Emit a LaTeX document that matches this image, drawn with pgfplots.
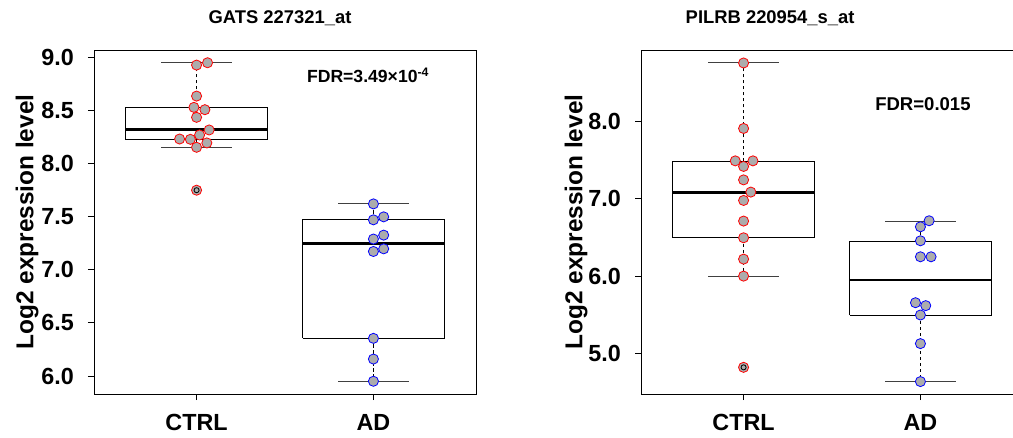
\documentclass[border=0pt]{standalone}
\usepackage{fontspec}
\setmainfont{Liberation Sans}
\usepackage{pgfplots}
\pgfplotsset{compat=1.18}

\definecolor{ptgray}{RGB}{172,172,172}

\pgfplotsset{
  exprbox/.style={
    scale only axis, anchor=south west,
    width=286.5pt, height=258pt,
    xmin=0.42, xmax=2.58,
    xtick={1,2}, xticklabels={CTRL,AD},
    tick pos=left, tick align=outside, major tick length=4.5pt,
    tick style={black, line width=0.75pt},
    axis line style={black, line width=0.75pt},
    tick label style={font=\bfseries\fontsize{17.5}{20}\selectfont, inner sep=0pt},
    xticklabel shift=10.5pt, yticklabel shift=10.5pt,
    yticklabel style={/pgf/number format/.cd, fixed, fixed zerofill, precision=1, assume math mode=true},
    ylabel={Log2 expression level},
    every axis y label/.style={at={(axis description cs:0,0.5)}, rotate=90, anchor=center,
      font=\bfseries\fontsize{18.3}{21}\selectfont},
    title style={font=\bfseries\fontsize{13.8}{16}\selectfont, anchor=center},
    clip=false,
  },
  boxline/.style={black, line width=0.75pt, mark=none},
  medline/.style={black, line width=2pt, mark=none},
  whisk/.style={black, line width=0.75pt, dashed, dash pattern=on 2.5pt off 2pt, mark=none},
  capline/.style={black!75, line width=0.75pt, mark=none},
  ctrlpt/.style={only marks, mark=*, mark size=3.8pt, mark options={fill=ptgray, draw=red, line width=0.6pt}},
  adpt/.style={only marks, mark=*, mark size=3.8pt, mark options={fill=ptgray, draw=blue, line width=0.6pt}},
  outl/.style={only marks, mark=o, mark size=1.9pt, mark options={draw=black, line width=0.6pt}},
}

\begin{document}
\begin{tikzpicture}

% left panel: GATS
\begin{axis}[exprbox, at={(70.5pt,32.25pt)},
    ymin=5.831, ymax=9.07, ytick={6,6.5,7,7.5,8,8.5,9},
    ylabel style={yshift=50.25pt},
    title={GATS 227321\_at},
    title style={at={(axis description cs:0.487,1)}, yshift=17.5pt}]
  \addplot[ctrlpt] coordinates {
    (1.000,8.928) (1.062,8.950) (1.000,8.636) (0.985,8.530) (1.047,8.508)
    (1.000,8.436) (1.071,8.317) (1.017,8.270) (0.904,8.232) (0.965,8.229)
    (1.058,8.195) (1.000,8.154) (1.000,7.750)
  };
  \addplot[adpt] coordinates {
    (2.000,7.621) (2.000,7.471) (2.058,7.499) (2.000,7.290) (2.058,7.327)
    (2.000,7.173) (2.058,7.198) (2.000,6.355) (2.000,6.160) (2.000,5.951)
  };
  % CTRL box
  \addplot[boxline] coordinates {(0.6,8.226) (1.4,8.226) (1.4,8.530) (0.6,8.530) (0.6,8.226)};
  \addplot[medline] coordinates {(0.6,8.320) (1.4,8.320)};
  \addplot[whisk] coordinates {(1,8.530) (1,8.950)};
  \addplot[whisk] coordinates {(1,8.226) (1,8.154)};
  \addplot[capline] coordinates {(0.8,8.950) (1.2,8.950)};
  \addplot[capline] coordinates {(0.8,8.154) (1.2,8.154)};
  \addplot[outl] coordinates {(1,7.750)};
  % AD box
  \addplot[boxline] coordinates {(1.6,6.355) (2.4,6.355) (2.4,7.471) (1.6,7.471) (1.6,6.355)};
  \addplot[medline] coordinates {(1.6,7.248) (2.4,7.248)};
  \addplot[whisk] coordinates {(2,7.471) (2,7.621)};
  \addplot[whisk] coordinates {(2,6.355) (2,5.951)};
  \addplot[capline] coordinates {(1.8,7.621) (2.2,7.621)};
  \addplot[capline] coordinates {(1.8,5.951) (2.2,5.951)};
  \node[anchor=west, inner sep=0pt, font=\bfseries\fontsize{13.2}{16}\selectfont] at (rel axis cs:0.557,0.927)
    {FDR=3.49×10\textsuperscript{-4}};
\end{axis}

% right panel: PILRB
\begin{axis}[exprbox, at={(480.75pt,32.25pt)},
    ymin=4.475, ymax=8.925, ytick={5,6,7,8},
    ylabel style={yshift=48.75pt},
    title={PILRB 220954\_s\_at},
    title style={at={(axis description cs:0.338,1)}, yshift=17.5pt}]
  \addplot[ctrlpt] coordinates {
    (1.000,8.757) (1.000,7.910) (0.953,7.491) (1.053,7.491) (1.000,7.419)
    (1.000,7.245) (1.041,7.087) (1.000,6.979) (1.000,6.712) (1.000,6.496)
    (1.000,6.220) (1.000,6.000) (1.000,4.820)
  };
  \addplot[adpt] coordinates {
    (2.049,6.716) (2.000,6.638) (2.000,6.457) (2.000,6.250) (2.060,6.250)
    (1.972,5.656) (2.030,5.618) (2.000,5.497) (2.000,5.127) (2.000,4.636)
  };
  % CTRL box
  \addplot[boxline] coordinates {(0.6,6.496) (1.4,6.496) (1.4,7.483) (0.6,7.483) (0.6,6.496)};
  \addplot[medline] coordinates {(0.6,7.083) (1.4,7.083)};
  \addplot[whisk] coordinates {(1,7.483) (1,8.757)};
  \addplot[whisk] coordinates {(1,6.496) (1,6.000)};
  \addplot[capline] coordinates {(0.8,8.757) (1.2,8.757)};
  \addplot[capline] coordinates {(0.8,6.000) (1.2,6.000)};
  \addplot[outl] coordinates {(1,4.820)};
  % AD box
  \addplot[boxline] coordinates {(1.6,5.497) (2.4,5.497) (2.4,6.453) (1.6,6.453) (1.6,5.497)};
  \addplot[medline] coordinates {(1.6,5.950) (2.4,5.950)};
  \addplot[whisk] coordinates {(2,6.453) (2,6.708)};
  \addplot[whisk] coordinates {(2,5.497) (2,4.636)};
  \addplot[capline] coordinates {(1.8,6.708) (2.2,6.708)};
  \addplot[capline] coordinates {(1.8,4.636) (2.2,4.636)};
  \node[anchor=west, inner sep=0pt, font=\bfseries\fontsize{13.9}{16}\selectfont] at (rel axis cs:0.6126,0.842)
    {FDR=0.015};
\end{axis}

\pgfresetboundingbox
\path[use as bounding box] (0,0) rectangle (759.75pt,327.75pt);
\end{tikzpicture}
\end{document}
